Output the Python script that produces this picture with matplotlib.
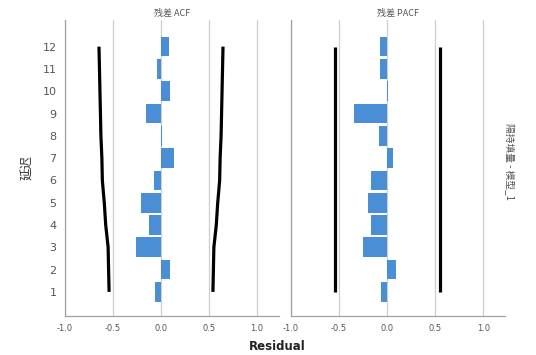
import numpy as np
import matplotlib.pyplot as plt

plt.rcParams['font.family'] = ['Noto Sans CJK SC', 'DejaVu Sans']

lags = np.arange(1, 13)
acf = [-0.06, 0.09, -0.26, -0.13, -0.21, -0.07, 0.14, 0.01, -0.16, 0.09, -0.04, 0.085]
acf_upper = [0.54, 0.545, 0.55, 0.575, 0.59, 0.61, 0.615, 0.625, 0.63, 0.635, 0.64, 0.645]
acf_lower = [-v for v in acf_upper]
pacf = [-0.06, 0.09, -0.25, -0.17, -0.20, -0.17, 0.06, -0.09, -0.35, 0.005, -0.07, -0.07]
pacf_upper = [0.545] * 12
pacf_lower = [-0.545] * 12

xticks = [-1.0, -0.5, 0.0, 0.5, 1.0]
bar_color = '#4a8fd6'
grid_color = '#cfcfcf'
text_color = '#555555'

fig = plt.figure(figsize=(5.36, 3.55), dpi=100)
ax1 = fig.add_axes([0.121, 0.110, 0.400, 0.834])
ax2 = fig.add_axes([0.543, 0.110, 0.400, 0.834])

def panel(ax, vals, lo, hi, title, show_y):
    for x in xticks:
        ax.axvline(x, color=grid_color, lw=0.9, zorder=0)
    ax.barh(lags, vals, height=0.88, color=bar_color, zorder=2)
    ax.plot(hi, lags, color='black', lw=2.3, zorder=3, solid_capstyle='butt')
    ax.plot(lo, lags, color='black', lw=2.3, zorder=3, solid_capstyle='butt')
    ax.set_xlim(-1.0, 1.23)
    ax.set_ylim(-0.08, 13.2)
    ax.set_xticks(xticks)
    ax.set_xticklabels([f'{x:.1f}' for x in xticks], fontsize=6, color=text_color,
                       family='DejaVu Sans')
    ax.tick_params(axis='both', length=0, pad=6)
    if show_y:
        ax.set_yticks(lags)
        ax.set_yticklabels([str(l) for l in lags], fontsize=8, color=text_color,
                           family='DejaVu Sans')
        ax.tick_params(axis='y', pad=6)
    else:
        ax.set_yticks([])
    for s in ['top', 'right']:
        ax.spines[s].set_visible(False)
    for s in ['left', 'bottom']:
        ax.spines[s].set_color('#a0a0a0')
        ax.spines[s].set_linewidth(0.9)
    ax.set_title(title, fontsize=6.5, color=text_color, pad=3)

panel(ax1, acf, acf_lower, acf_upper, '残差 ACF', True)
panel(ax2, pacf, pacf_lower, pacf_upper, '残差 PACF', False)

ax1.set_ylabel('延迟', fontsize=9, color='#333333', labelpad=6)
fig.text(0.517, 0.025, 'Residual', ha='center', va='center', fontsize=8.5,
         fontweight='bold', color='#222222', family='DejaVu Sans')
fig.text(0.952, 0.545, '隔持填量 - 模型_1', rotation=-90, ha='center', va='center',
         fontsize=7, color=text_color)

fig.savefig('out.png', dpi=100)
